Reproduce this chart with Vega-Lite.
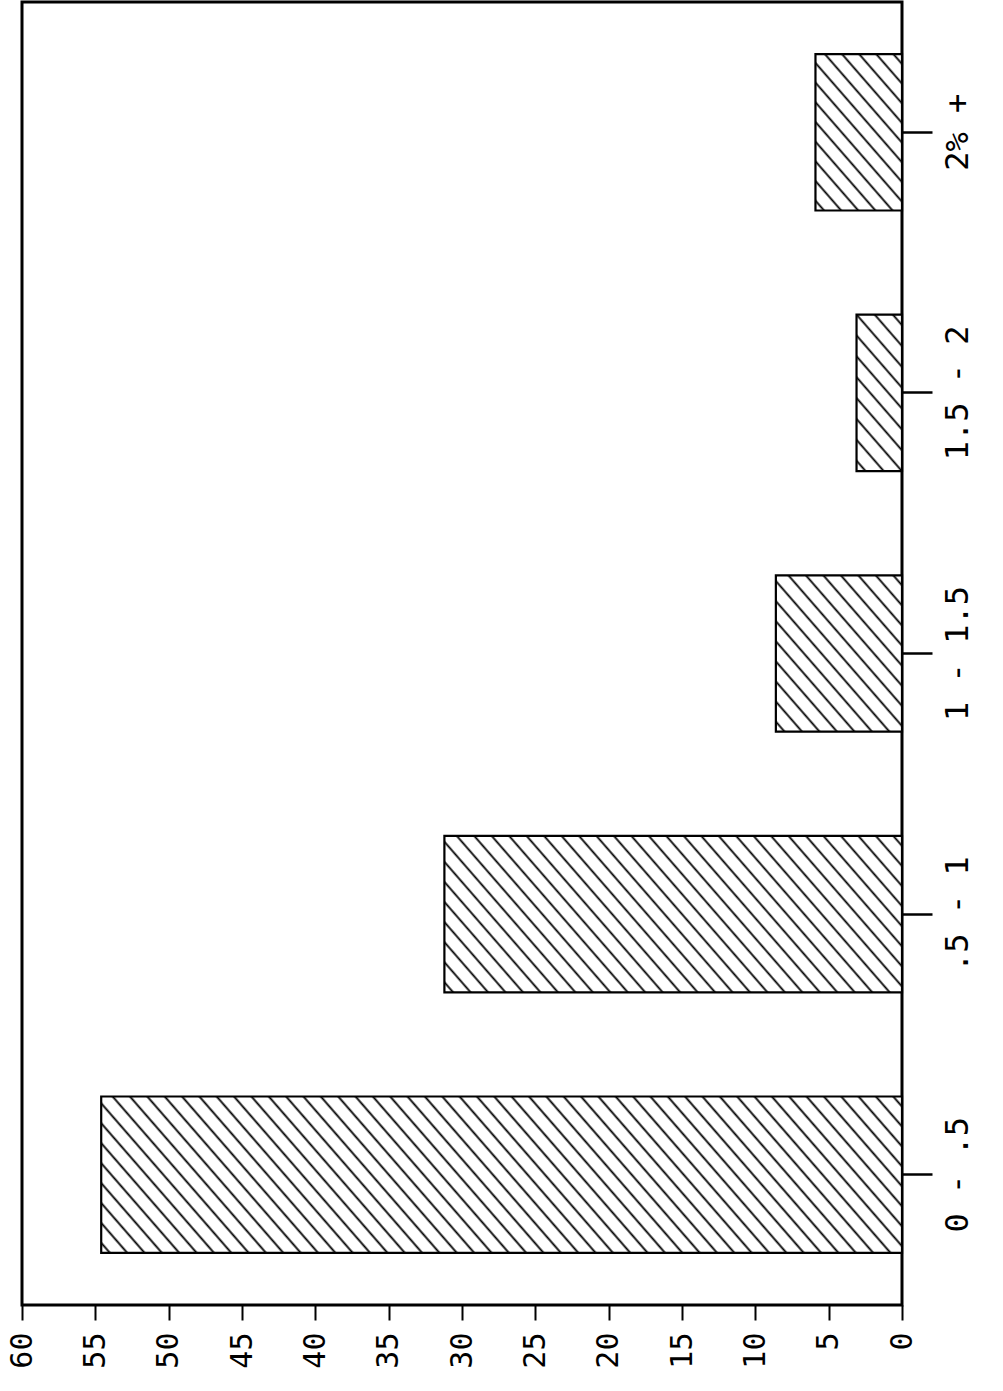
{
  "$schema": "https://vega.github.io/schema/vega-lite/v6.json",
  "width": 880,
  "height": 1303,
  "autosize": {"type": "none"},
  "padding": {"left": 22, "top": 2, "right": 101, "bottom": 86},
  "background": "white",
  "config": {
    "view": {"stroke": "black", "strokeWidth": 3},
    "font": "DejaVu Sans Mono"
  },
  "data": {
    "values": [
      {"range": "0 - .5", "percent": 54.6},
      {"range": ".5 - 1", "percent": 31.2},
      {"range": "1 - 1.5", "percent": 8.6},
      {"range": "1.5 - 2", "percent": 3.1},
      {"range": "2% +", "percent": 5.9}
    ]
  },
  "mark": {"type": "bar", "stroke": "black", "strokeWidth": 2.2},
  "encoding": {
    "fill": {
      "condition": [
        {"test": "datum.range === '0 - .5'", "value": {"gradient": "linear", "x1": 0, "y1": 1, "x2": 1.137, "y2": 0.8069, "stops": [
          {"offset":0.0067,"color":"#fff"},{"offset":0.0093,"color":"#000"},{"offset":0.0119,"color":"#fff"},
          {"offset":0.0252,"color":"#fff"},{"offset":0.0278,"color":"#000"},{"offset":0.0304,"color":"#fff"},
          {"offset":0.0437,"color":"#fff"},{"offset":0.0463,"color":"#000"},{"offset":0.0489,"color":"#fff"},
          {"offset":0.0622,"color":"#fff"},{"offset":0.0648,"color":"#000"},{"offset":0.0674,"color":"#fff"},
          {"offset":0.0807,"color":"#fff"},{"offset":0.0833,"color":"#000"},{"offset":0.0859,"color":"#fff"},
          {"offset":0.0993,"color":"#fff"},{"offset":0.1019,"color":"#000"},{"offset":0.1045,"color":"#fff"},
          {"offset":0.1178,"color":"#fff"},{"offset":0.1204,"color":"#000"},{"offset":0.1230,"color":"#fff"},
          {"offset":0.1363,"color":"#fff"},{"offset":0.1389,"color":"#000"},{"offset":0.1415,"color":"#fff"},
          {"offset":0.1548,"color":"#fff"},{"offset":0.1574,"color":"#000"},{"offset":0.1600,"color":"#fff"},
          {"offset":0.1733,"color":"#fff"},{"offset":0.1759,"color":"#000"},{"offset":0.1785,"color":"#fff"},
          {"offset":0.1918,"color":"#fff"},{"offset":0.1944,"color":"#000"},{"offset":0.1970,"color":"#fff"},
          {"offset":0.2104,"color":"#fff"},{"offset":0.2130,"color":"#000"},{"offset":0.2156,"color":"#fff"},
          {"offset":0.2289,"color":"#fff"},{"offset":0.2315,"color":"#000"},{"offset":0.2341,"color":"#fff"},
          {"offset":0.2474,"color":"#fff"},{"offset":0.2500,"color":"#000"},{"offset":0.2526,"color":"#fff"},
          {"offset":0.2659,"color":"#fff"},{"offset":0.2685,"color":"#000"},{"offset":0.2711,"color":"#fff"},
          {"offset":0.2844,"color":"#fff"},{"offset":0.2870,"color":"#000"},{"offset":0.2896,"color":"#fff"},
          {"offset":0.3030,"color":"#fff"},{"offset":0.3056,"color":"#000"},{"offset":0.3082,"color":"#fff"},
          {"offset":0.3215,"color":"#fff"},{"offset":0.3241,"color":"#000"},{"offset":0.3267,"color":"#fff"},
          {"offset":0.3400,"color":"#fff"},{"offset":0.3426,"color":"#000"},{"offset":0.3452,"color":"#fff"},
          {"offset":0.3585,"color":"#fff"},{"offset":0.3611,"color":"#000"},{"offset":0.3637,"color":"#fff"},
          {"offset":0.3770,"color":"#fff"},{"offset":0.3796,"color":"#000"},{"offset":0.3822,"color":"#fff"},
          {"offset":0.3956,"color":"#fff"},{"offset":0.3982,"color":"#000"},{"offset":0.4008,"color":"#fff"},
          {"offset":0.4141,"color":"#fff"},{"offset":0.4167,"color":"#000"},{"offset":0.4193,"color":"#fff"},
          {"offset":0.4326,"color":"#fff"},{"offset":0.4352,"color":"#000"},{"offset":0.4378,"color":"#fff"},
          {"offset":0.4511,"color":"#fff"},{"offset":0.4537,"color":"#000"},{"offset":0.4563,"color":"#fff"},
          {"offset":0.4696,"color":"#fff"},{"offset":0.4722,"color":"#000"},{"offset":0.4748,"color":"#fff"},
          {"offset":0.4881,"color":"#fff"},{"offset":0.4907,"color":"#000"},{"offset":0.4933,"color":"#fff"},
          {"offset":0.5067,"color":"#fff"},{"offset":0.5093,"color":"#000"},{"offset":0.5119,"color":"#fff"},
          {"offset":0.5252,"color":"#fff"},{"offset":0.5278,"color":"#000"},{"offset":0.5304,"color":"#fff"},
          {"offset":0.5437,"color":"#fff"},{"offset":0.5463,"color":"#000"},{"offset":0.5489,"color":"#fff"},
          {"offset":0.5622,"color":"#fff"},{"offset":0.5648,"color":"#000"},{"offset":0.5674,"color":"#fff"},
          {"offset":0.5807,"color":"#fff"},{"offset":0.5833,"color":"#000"},{"offset":0.5859,"color":"#fff"},
          {"offset":0.5993,"color":"#fff"},{"offset":0.6019,"color":"#000"},{"offset":0.6045,"color":"#fff"},
          {"offset":0.6178,"color":"#fff"},{"offset":0.6204,"color":"#000"},{"offset":0.6230,"color":"#fff"},
          {"offset":0.6363,"color":"#fff"},{"offset":0.6389,"color":"#000"},{"offset":0.6415,"color":"#fff"},
          {"offset":0.6548,"color":"#fff"},{"offset":0.6574,"color":"#000"},{"offset":0.6600,"color":"#fff"},
          {"offset":0.6733,"color":"#fff"},{"offset":0.6759,"color":"#000"},{"offset":0.6785,"color":"#fff"},
          {"offset":0.6918,"color":"#fff"},{"offset":0.6944,"color":"#000"},{"offset":0.6970,"color":"#fff"},
          {"offset":0.7104,"color":"#fff"},{"offset":0.7130,"color":"#000"},{"offset":0.7156,"color":"#fff"},
          {"offset":0.7289,"color":"#fff"},{"offset":0.7315,"color":"#000"},{"offset":0.7341,"color":"#fff"},
          {"offset":0.7474,"color":"#fff"},{"offset":0.7500,"color":"#000"},{"offset":0.7526,"color":"#fff"},
          {"offset":0.7659,"color":"#fff"},{"offset":0.7685,"color":"#000"},{"offset":0.7711,"color":"#fff"},
          {"offset":0.7844,"color":"#fff"},{"offset":0.7870,"color":"#000"},{"offset":0.7896,"color":"#fff"},
          {"offset":0.8030,"color":"#fff"},{"offset":0.8056,"color":"#000"},{"offset":0.8082,"color":"#fff"},
          {"offset":0.8215,"color":"#fff"},{"offset":0.8241,"color":"#000"},{"offset":0.8267,"color":"#fff"},
          {"offset":0.8400,"color":"#fff"},{"offset":0.8426,"color":"#000"},{"offset":0.8452,"color":"#fff"},
          {"offset":0.8585,"color":"#fff"},{"offset":0.8611,"color":"#000"},{"offset":0.8637,"color":"#fff"},
          {"offset":0.8770,"color":"#fff"},{"offset":0.8796,"color":"#000"},{"offset":0.8822,"color":"#fff"},
          {"offset":0.8956,"color":"#fff"},{"offset":0.8982,"color":"#000"},{"offset":0.9008,"color":"#fff"},
          {"offset":0.9141,"color":"#fff"},{"offset":0.9167,"color":"#000"},{"offset":0.9193,"color":"#fff"},
          {"offset":0.9326,"color":"#fff"},{"offset":0.9352,"color":"#000"},{"offset":0.9378,"color":"#fff"},
          {"offset":0.9511,"color":"#fff"},{"offset":0.9537,"color":"#000"},{"offset":0.9563,"color":"#fff"},
          {"offset":0.9696,"color":"#fff"},{"offset":0.9722,"color":"#000"},{"offset":0.9748,"color":"#fff"},
          {"offset":0.9881,"color":"#fff"},{"offset":0.9907,"color":"#000"},{"offset":0.9933,"color":"#fff"}
        ]}},
        {"test": "datum.range === '.5 - 1'", "value": {"gradient": "linear", "x1": 0, "y1": 1, "x2": 1.192, "y2": 0.6457, "stops": [
          {"offset":0.0107,"color":"#fff"},{"offset":0.0147,"color":"#000"},{"offset":0.0187,"color":"#fff"},
          {"offset":0.0401,"color":"#fff"},{"offset":0.0441,"color":"#000"},{"offset":0.0481,"color":"#fff"},
          {"offset":0.0695,"color":"#fff"},{"offset":0.0735,"color":"#000"},{"offset":0.0775,"color":"#fff"},
          {"offset":0.0989,"color":"#fff"},{"offset":0.1029,"color":"#000"},{"offset":0.1069,"color":"#fff"},
          {"offset":0.1284,"color":"#fff"},{"offset":0.1324,"color":"#000"},{"offset":0.1364,"color":"#fff"},
          {"offset":0.1578,"color":"#fff"},{"offset":0.1618,"color":"#000"},{"offset":0.1658,"color":"#fff"},
          {"offset":0.1872,"color":"#fff"},{"offset":0.1912,"color":"#000"},{"offset":0.1952,"color":"#fff"},
          {"offset":0.2166,"color":"#fff"},{"offset":0.2206,"color":"#000"},{"offset":0.2246,"color":"#fff"},
          {"offset":0.2460,"color":"#fff"},{"offset":0.2500,"color":"#000"},{"offset":0.2540,"color":"#fff"},
          {"offset":0.2754,"color":"#fff"},{"offset":0.2794,"color":"#000"},{"offset":0.2834,"color":"#fff"},
          {"offset":0.3048,"color":"#fff"},{"offset":0.3088,"color":"#000"},{"offset":0.3128,"color":"#fff"},
          {"offset":0.3342,"color":"#fff"},{"offset":0.3382,"color":"#000"},{"offset":0.3422,"color":"#fff"},
          {"offset":0.3636,"color":"#fff"},{"offset":0.3676,"color":"#000"},{"offset":0.3716,"color":"#fff"},
          {"offset":0.3931,"color":"#fff"},{"offset":0.3971,"color":"#000"},{"offset":0.4011,"color":"#fff"},
          {"offset":0.4225,"color":"#fff"},{"offset":0.4265,"color":"#000"},{"offset":0.4305,"color":"#fff"},
          {"offset":0.4519,"color":"#fff"},{"offset":0.4559,"color":"#000"},{"offset":0.4599,"color":"#fff"},
          {"offset":0.4813,"color":"#fff"},{"offset":0.4853,"color":"#000"},{"offset":0.4893,"color":"#fff"},
          {"offset":0.5107,"color":"#fff"},{"offset":0.5147,"color":"#000"},{"offset":0.5187,"color":"#fff"},
          {"offset":0.5401,"color":"#fff"},{"offset":0.5441,"color":"#000"},{"offset":0.5481,"color":"#fff"},
          {"offset":0.5695,"color":"#fff"},{"offset":0.5735,"color":"#000"},{"offset":0.5775,"color":"#fff"},
          {"offset":0.5989,"color":"#fff"},{"offset":0.6029,"color":"#000"},{"offset":0.6069,"color":"#fff"},
          {"offset":0.6284,"color":"#fff"},{"offset":0.6324,"color":"#000"},{"offset":0.6364,"color":"#fff"},
          {"offset":0.6578,"color":"#fff"},{"offset":0.6618,"color":"#000"},{"offset":0.6658,"color":"#fff"},
          {"offset":0.6872,"color":"#fff"},{"offset":0.6912,"color":"#000"},{"offset":0.6952,"color":"#fff"},
          {"offset":0.7166,"color":"#fff"},{"offset":0.7206,"color":"#000"},{"offset":0.7246,"color":"#fff"},
          {"offset":0.7460,"color":"#fff"},{"offset":0.7500,"color":"#000"},{"offset":0.7540,"color":"#fff"},
          {"offset":0.7754,"color":"#fff"},{"offset":0.7794,"color":"#000"},{"offset":0.7834,"color":"#fff"},
          {"offset":0.8048,"color":"#fff"},{"offset":0.8088,"color":"#000"},{"offset":0.8128,"color":"#fff"},
          {"offset":0.8342,"color":"#fff"},{"offset":0.8382,"color":"#000"},{"offset":0.8422,"color":"#fff"},
          {"offset":0.8636,"color":"#fff"},{"offset":0.8676,"color":"#000"},{"offset":0.8716,"color":"#fff"},
          {"offset":0.8931,"color":"#fff"},{"offset":0.8971,"color":"#000"},{"offset":0.9011,"color":"#fff"},
          {"offset":0.9225,"color":"#fff"},{"offset":0.9265,"color":"#000"},{"offset":0.9305,"color":"#fff"},
          {"offset":0.9519,"color":"#fff"},{"offset":0.9559,"color":"#000"},{"offset":0.9599,"color":"#fff"},
          {"offset":0.9813,"color":"#fff"},{"offset":0.9853,"color":"#000"},{"offset":0.9893,"color":"#fff"}
        ]}},
        {"test": "datum.range === '1 - 1.5'", "value": {"gradient": "linear", "x1": 0, "y1": 1, "x2": 0.9609, "y2": -0.0363, "stops": [
          {"offset":0.0242,"color":"#fff"},{"offset":0.0333,"color":"#000"},{"offset":0.0424,"color":"#fff"},
          {"offset":0.0909,"color":"#fff"},{"offset":0.1000,"color":"#000"},{"offset":0.1091,"color":"#fff"},
          {"offset":0.1576,"color":"#fff"},{"offset":0.1667,"color":"#000"},{"offset":0.1758,"color":"#fff"},
          {"offset":0.2242,"color":"#fff"},{"offset":0.2333,"color":"#000"},{"offset":0.2424,"color":"#fff"},
          {"offset":0.2909,"color":"#fff"},{"offset":0.3000,"color":"#000"},{"offset":0.3091,"color":"#fff"},
          {"offset":0.3576,"color":"#fff"},{"offset":0.3667,"color":"#000"},{"offset":0.3758,"color":"#fff"},
          {"offset":0.4242,"color":"#fff"},{"offset":0.4333,"color":"#000"},{"offset":0.4424,"color":"#fff"},
          {"offset":0.4909,"color":"#fff"},{"offset":0.5000,"color":"#000"},{"offset":0.5091,"color":"#fff"},
          {"offset":0.5576,"color":"#fff"},{"offset":0.5667,"color":"#000"},{"offset":0.5758,"color":"#fff"},
          {"offset":0.6242,"color":"#fff"},{"offset":0.6333,"color":"#000"},{"offset":0.6424,"color":"#fff"},
          {"offset":0.6909,"color":"#fff"},{"offset":0.7000,"color":"#000"},{"offset":0.7091,"color":"#fff"},
          {"offset":0.7576,"color":"#fff"},{"offset":0.7667,"color":"#000"},{"offset":0.7758,"color":"#fff"},
          {"offset":0.8242,"color":"#fff"},{"offset":0.8333,"color":"#000"},{"offset":0.8424,"color":"#fff"},
          {"offset":0.8909,"color":"#fff"},{"offset":0.9000,"color":"#000"},{"offset":0.9091,"color":"#fff"},
          {"offset":0.9576,"color":"#fff"},{"offset":0.9667,"color":"#000"},{"offset":0.9758,"color":"#fff"}
        ]}},
        {"test": "datum.range === '1.5 - 2'", "value": {"gradient": "linear", "x1": 0, "y1": 1, "x2": 0.4016, "y2": -0.2002, "stops": [
          {"offset":0.0369,"color":"#fff"},{"offset":0.0500,"color":"#000"},{"offset":0.0631,"color":"#fff"},
          {"offset":0.1369,"color":"#fff"},{"offset":0.1500,"color":"#000"},{"offset":0.1631,"color":"#fff"},
          {"offset":0.2369,"color":"#fff"},{"offset":0.2500,"color":"#000"},{"offset":0.2631,"color":"#fff"},
          {"offset":0.3369,"color":"#fff"},{"offset":0.3500,"color":"#000"},{"offset":0.3631,"color":"#fff"},
          {"offset":0.4369,"color":"#fff"},{"offset":0.4500,"color":"#000"},{"offset":0.4631,"color":"#fff"},
          {"offset":0.5369,"color":"#fff"},{"offset":0.5500,"color":"#000"},{"offset":0.5631,"color":"#fff"},
          {"offset":0.6369,"color":"#fff"},{"offset":0.6500,"color":"#000"},{"offset":0.6631,"color":"#fff"},
          {"offset":0.7369,"color":"#fff"},{"offset":0.7500,"color":"#000"},{"offset":0.7631,"color":"#fff"},
          {"offset":0.8369,"color":"#fff"},{"offset":0.8500,"color":"#000"},{"offset":0.8631,"color":"#fff"},
          {"offset":0.9369,"color":"#fff"},{"offset":0.9500,"color":"#000"},{"offset":0.9631,"color":"#fff"}
        ]}},
        {"test": "datum.range === '2% +'", "value": {"gradient": "linear", "x1": 0, "y1": 1, "x2": 0.7408, "y2": -0.1648, "stops": [
          {"offset":0.0278,"color":"#fff"},{"offset":0.0385,"color":"#000"},{"offset":0.0492,"color":"#fff"},
          {"offset":0.1047,"color":"#fff"},{"offset":0.1154,"color":"#000"},{"offset":0.1261,"color":"#fff"},
          {"offset":0.1816,"color":"#fff"},{"offset":0.1923,"color":"#000"},{"offset":0.2030,"color":"#fff"},
          {"offset":0.2585,"color":"#fff"},{"offset":0.2692,"color":"#000"},{"offset":0.2799,"color":"#fff"},
          {"offset":0.3355,"color":"#fff"},{"offset":0.3462,"color":"#000"},{"offset":0.3569,"color":"#fff"},
          {"offset":0.4124,"color":"#fff"},{"offset":0.4231,"color":"#000"},{"offset":0.4338,"color":"#fff"},
          {"offset":0.4893,"color":"#fff"},{"offset":0.5000,"color":"#000"},{"offset":0.5107,"color":"#fff"},
          {"offset":0.5662,"color":"#fff"},{"offset":0.5769,"color":"#000"},{"offset":0.5876,"color":"#fff"},
          {"offset":0.6431,"color":"#fff"},{"offset":0.6538,"color":"#000"},{"offset":0.6645,"color":"#fff"},
          {"offset":0.7201,"color":"#fff"},{"offset":0.7308,"color":"#000"},{"offset":0.7415,"color":"#fff"},
          {"offset":0.7970,"color":"#fff"},{"offset":0.8077,"color":"#000"},{"offset":0.8184,"color":"#fff"},
          {"offset":0.8739,"color":"#fff"},{"offset":0.8846,"color":"#000"},{"offset":0.8953,"color":"#fff"},
          {"offset":0.9508,"color":"#fff"},{"offset":0.9615,"color":"#000"},{"offset":0.9722,"color":"#fff"}
        ]}}
      ],
      "value": "white"
    },
    "y": {
      "field": "range",
      "type": "nominal",
      "sort": ["2% +", "1.5 - 2", "1 - 1.5", ".5 - 1", "0 - .5"],
      "scale": {"paddingInner": 0.4, "paddingOuter": 0.2},
      "axis": {
        "orient": "right",
        "title": null,
        "domain": false,
        "tickSize": 30,
        "tickWidth": 2.5,
        "tickColor": "black",
        "labelAngle": -90,
        "labelAlign": "center",
        "labelBaseline": "top",
        "labelPadding": 10,
        "labelFontSize": 32,
        "labelColor": "black",
        "labelFont": "DejaVu Sans Mono"
      }
    },
    "x": {
      "field": "percent",
      "type": "quantitative",
      "scale": {"domain": [0, 60], "reverse": true, "nice": false},
      "axis": {
        "orient": "bottom",
        "title": null,
        "domain": false,
        "grid": false,
        "values": [0, 5, 10, 15, 20, 25, 30, 35, 40, 45, 50, 55, 60],
        "tickSize": 15,
        "tickWidth": 2,
        "tickColor": "black",
        "labelAngle": -90,
        "labelAlign": "right",
        "labelBaseline": "middle",
        "labelPadding": 12,
        "labelFontSize": 30,
        "labelColor": "black",
        "labelFont": "DejaVu Sans Mono",
        "labelOverlap": false,
        "labelFlush": false
      }
    }
  }
}
